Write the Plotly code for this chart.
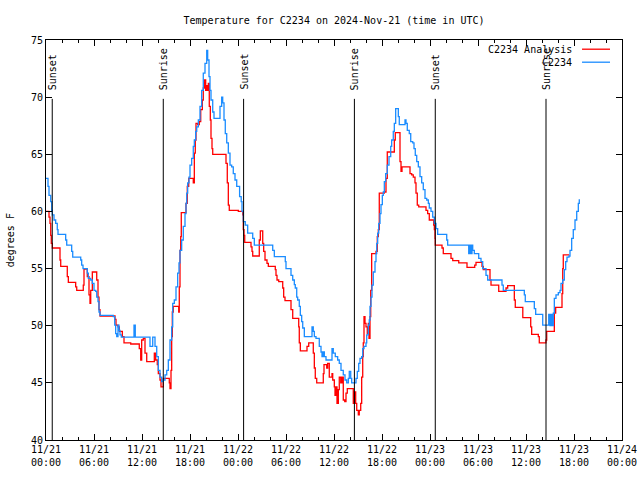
import plotly.graph_objects as go
import pandas as pd

BASE = pd.Timestamp("2024-11-21 00:00")

# hours since 2024-11-21 00:00 UTC, temperatures in degrees F
obs_hours = [0.0, 0.25, 0.375, 0.59, 0.71, 0.79, 1.0, 1.21, 1.41, 1.5, 2.46, 2.59, 3.21, 3.34, 4.34, 4.46, 4.625, 5.16, 5.29, 5.59,
             5.79, 6.0, 6.21, 6.34, 6.5, 6.625, 6.75, 8.41, 8.59, 8.71, 8.84, 9.0, 9.125, 9.25, 9.41, 11.0, 11.16, 13.0, 13.34, 13.625,
             13.84, 14.04, 14.25, 14.46, 14.66, 14.875, 15.09, 15.29, 15.5, 15.71, 15.84, 16.04, 16.25, 16.46, 16.625, 16.75, 16.96, 17.16, 17.375, 17.5,
             17.59, 17.71, 17.875, 18.0, 18.21, 18.41, 18.54, 18.71, 18.84, 19.04, 19.25, 19.46, 19.66, 19.875, 20.09, 20.21, 20.375, 20.5, 20.625, 20.84,
             21.0, 21.75, 21.96, 22.09, 22.25, 22.41, 22.59, 22.79, 23.0, 23.21, 23.41, 23.625, 23.84, 24.2, 24.4, 24.5, 24.66, 24.91, 25.21, 25.84,
             26.04, 28.34, 28.54, 29.91, 30.0, 30.625, 30.84, 31.04, 31.16, 31.34, 31.46, 31.66, 31.79, 31.96, 32.09, 32.29, 33.25, 33.41, 33.54, 33.75,
             34.16, 34.375, 34.5, 34.625, 34.79, 35.0, 35.75, 35.91, 36.16, 36.46, 36.66, 36.875, 37.16, 37.375, 37.59, 37.79, 37.91, 38.09, 38.21, 38.75,
             38.91, 39.09, 39.25, 39.46, 39.59, 39.75, 40.0, 40.09, 40.29, 40.41, 40.5, 40.625, 40.75, 40.91, 41.125, 41.25, 41.34, 41.46, 41.59, 41.75,
             41.875, 42.04, 42.16, 42.29, 42.46, 42.66, 42.875, 43.09, 43.21, 43.41, 43.54, 43.71, 44.04, 44.16, 44.875, 45.0, 45.16, 45.41, 45.59, 45.84,
             46.0, 46.16, 46.34, 46.54, 46.75, 46.96, 47.16, 47.375, 47.59, 47.79, 47.91, 48.125, 48.34, 48.54, 48.75, 48.96, 50.09, 50.21, 52.84, 52.96,
             53.125, 53.25, 53.34, 53.54, 54.09, 54.375, 54.59, 55.0, 55.21, 57.0, 57.16, 59.79, 59.91, 61.04, 61.21, 62.09, 62.84, 63.0, 63.125, 63.25,
             63.41, 63.54, 63.75, 64.04, 64.25, 64.375, 64.59, 64.79, 64.96, 65.125, 65.375, 65.5, 65.71, 65.91, 66.125, 66.34, 66.54, 66.66]
obs_temp = [62.9, 62.2, 61.4, 60.85, 60.1, 59.7, 59.25, 58.96, 58.4, 58.0, 57.5, 57.06, 56.5, 56.0, 55.75, 55.3, 55.0, 54.6, 54.15, 54.0,
            53.7, 53.1, 53.0, 52.5, 52.1, 51.2, 50.9, 50.8, 50.06, 49.3, 49.04, 50.06, 49.6, 49.2, 49.0, 50.06, 49.0, 48.2, 49.0, 48.2,
            47.3, 46.1, 45.5, 45.1, 45.25, 45.7, 46.1, 47.0, 48.75, 49.9, 51.96, 52.25, 53.4, 54.6, 55.5, 56.6, 57.5, 58.7, 59.8, 60.7,
            61.6, 62.5, 63.0, 64.06, 64.65, 65.7, 66.25, 67.0, 67.4, 68.0, 69.2, 70.6, 72.1, 72.96, 74.1, 73.25, 71.8, 70.6, 69.75, 68.7,
            68.15, 69.2, 70.0, 69.5, 68.0, 66.8, 66.0, 65.1, 64.06, 63.9, 63.3, 62.75, 62.2, 61.3, 60.85, 60.0, 59.1, 58.8, 58.1, 57.65,
            57.06, 56.6, 56.04, 55.6, 55.0, 54.4, 54.0, 53.6, 53.3, 52.5, 52.25, 51.7, 50.9, 50.35, 49.8, 49.04, 49.9, 49.5, 49.04, 48.9,
            48.2, 47.7, 47.3, 47.7, 47.3, 47.0, 48.0, 47.6, 47.3, 47.0, 46.7, 46.1, 45.7, 45.25, 45.0, 45.4, 46.0, 45.4, 45.0, 45.4,
            46.0, 46.7, 47.15, 47.3, 48.0, 48.2, 48.5, 49.2, 50.06, 50.5, 51.7, 52.5, 53.56, 54.7, 55.6, 56.3, 57.2, 58.1, 58.96, 59.8,
            60.6, 61.4, 61.7, 62.6, 63.3, 64.06, 64.8, 65.7, 66.25, 67.0, 67.7, 69.0, 68.3, 67.6, 68.0, 67.7, 67.1, 66.8, 66.1, 66.0,
            65.5, 64.9, 64.35, 63.9, 63.05, 62.5, 61.9, 61.15, 61.0, 60.7, 60.3, 60.0, 59.5, 58.96, 58.5, 58.0, 57.5, 57.06, 56.3, 57.06,
            56.3, 57.06, 56.6, 56.3, 55.9, 55.6, 55.0, 54.4, 54.0, 53.56, 53.1, 52.7, 52.1, 51.5, 51.0, 50.06, 51.0, 50.0, 51.0, 50.0,
            51.1, 52.4, 52.7, 52.9, 53.1, 53.7, 54.0, 54.9, 55.6, 56.0, 56.1, 56.6, 57.65, 58.4, 59.25, 60.0, 60.7, 61.06]

ana_hours = [0.0, 0.375, 0.5, 0.59, 0.66, 0.79, 1.75, 1.84, 2.66, 2.79, 3.71, 3.84, 4.66, 4.75, 5.16, 5.375, 5.5, 5.59, 5.79, 6.34,
             6.5, 6.625, 6.75, 8.625, 8.75, 9.0, 9.16, 9.54, 9.75, 10.59, 11.66, 11.84, 11.96, 12.16, 12.375, 12.59, 13.54, 13.71, 13.91, 14.04,
             14.25, 14.375, 14.66, 15.41, 15.5, 15.625, 15.71, 15.79, 15.91, 16.59, 16.66, 16.75, 16.84, 16.91, 17.5, 17.66, 17.84, 18.41, 18.54, 18.66,
             18.75, 18.96, 19.16, 19.34, 19.54, 19.66, 19.79, 19.96, 20.09, 20.21, 20.29, 20.41, 20.54, 20.625, 20.75, 20.84, 22.5, 22.66, 22.79, 22.91,
             24.04, 24.59, 24.66, 24.75, 24.84, 25.625, 25.75, 25.84, 26.66, 26.79, 27.09, 27.21, 27.375, 27.625, 27.79, 28.66, 28.75, 28.875, 29.09, 29.59,
             29.71, 29.875, 30.625, 30.84, 31.59, 31.66, 31.79, 32.625, 32.84, 33.41, 33.54, 33.66, 33.84, 34.66, 34.75, 35.09, 35.21, 35.41, 35.75, 35.84,
             36.04, 36.125, 36.25, 36.375, 36.54, 36.66, 36.84, 37.0, 37.16, 37.34, 37.5, 37.66, 38.41, 38.54, 38.71, 38.84, 39.04, 39.16, 39.34, 39.46,
             39.59, 39.66, 39.75, 39.875, 40.0, 40.16, 40.29, 40.375, 40.5, 40.59, 40.71, 41.25, 41.41, 41.54, 41.66, 42.29, 42.5, 42.66, 43.54, 43.66,
             44.25, 44.375, 44.5, 45.5, 45.71, 45.91, 46.125, 46.25, 46.41, 46.59, 47.5, 47.71, 47.91, 48.46, 48.54, 48.625, 48.66, 49.5, 49.66, 50.625,
             50.84, 51.59, 52.625, 53.59, 53.75, 54.5, 54.66, 55.5, 55.625, 56.59, 57.5, 57.71, 58.54, 58.66, 59.6, 60.59, 60.71, 61.54, 61.66, 62.5,
             62.59, 63.54, 63.71, 64.5, 64.59, 64.66, 65.41]
ana_temp = [60.0, 59.5, 58.96, 57.9, 57.2, 56.8, 55.75, 55.2, 54.3, 53.8, 53.4, 53.1, 53.56, 54.95, 54.3, 52.7, 51.96, 53.1, 54.7, 54.0,
            52.5, 51.4, 50.85, 50.56, 50.06, 49.9, 49.5, 49.04, 48.5, 48.4, 48.0, 47.0, 48.75, 48.9, 47.6, 46.85, 47.6, 47.0, 46.6, 45.8,
            45.25, 44.65, 45.4, 45.0, 44.5, 46.1, 49.04, 51.2, 51.7, 51.2, 53.4, 56.6, 57.8, 59.9, 60.7, 62.2, 62.9, 62.5, 65.1, 66.25,
            67.7, 67.6, 67.85, 68.9, 69.75, 70.8, 71.5, 70.6, 71.0, 70.6, 71.2, 69.2, 68.0, 66.4, 65.5, 65.0, 64.2, 62.5, 60.56, 60.1,
            60.0, 59.7, 58.4, 57.9, 57.3, 56.9, 56.5, 56.1, 57.5, 58.3, 57.2, 56.5, 55.75, 55.45, 55.2, 54.9, 54.4, 54.0, 53.85, 53.3,
            52.5, 52.2, 51.4, 50.65, 49.9, 48.5, 47.8, 48.2, 48.5, 47.6, 46.3, 45.4, 45.0, 45.8, 46.6, 46.3, 46.7, 45.5, 45.8, 45.25,
            44.65, 43.9, 44.65, 43.2, 44.4, 45.5, 45.0, 45.5, 43.5, 43.35, 44.1, 44.5, 43.2, 44.2, 43.2, 42.6, 42.2, 42.6, 43.2, 45.5,
            47.3, 48.5, 50.8, 50.2, 49.9, 49.3, 50.2, 48.9, 50.8, 53.1, 56.3, 56.5, 57.8, 58.4, 61.6, 61.7, 62.9, 65.2, 66.25, 66.9,
            64.35, 63.5, 63.9, 63.3, 63.2, 63.0, 62.5, 61.6, 60.56, 60.4, 60.1, 59.8, 59.25, 58.8, 58.4, 57.65, 57.06, 56.8, 56.3, 55.9,
            55.7, 55.5, 55.1, 55.3, 55.55, 55.2, 54.9, 54.0, 53.56, 53.0, 53.3, 53.5, 52.25, 51.6, 50.7, 49.9, 49.25, 49.04, 48.5, 48.75,
            49.5, 51.1, 51.6, 52.8, 55.0, 56.2, 56.2]

sunset_hours = [0.78, 24.7, 48.66]
sunrise_hours = [14.66, 38.55, 62.5]

x_tick_hours = list(range(0, 73, 6))
x_tick_labels = ["11/21<br>00:00", "11/21<br>06:00", "11/21<br>12:00", "11/21<br>18:00",
                 "11/22<br>00:00", "11/22<br>06:00", "11/22<br>12:00", "11/22<br>18:00",
                 "11/23<br>00:00", "11/23<br>06:00", "11/23<br>12:00", "11/23<br>18:00",
                 "11/24<br>00:00"]
y_ticks = [40, 45, 50, 55, 60, 65, 70, 75]

series_names = ["C2234 Analysis", "C2234"]
series_colors = ["#ff0000", "#1a8cff"]

FONT = "DejaVu Sans Mono"


def t(h):
    return BASE + pd.to_timedelta(h, unit="h")


fig = go.Figure()
fig.add_trace(go.Scatter(x=[t(h) for h in ana_hours], y=ana_temp, mode="lines", name=series_names[0],
                         line=dict(color=series_colors[0], width=1.3, shape="hv"), showlegend=False))
fig.add_trace(go.Scatter(x=[t(h) for h in obs_hours], y=obs_temp, mode="lines", name=series_names[1],
                         line=dict(color=series_colors[1], width=1.3, shape="hv"), showlegend=False))

shapes = []
annotations = []
for label, hours in (("Sunset", sunset_hours), ("Sunrise", sunrise_hours)):
    for h in hours:
        shapes.append(dict(type="line", xref="x", yref="y", x0=t(h), x1=t(h), y0=40, y1=69.85,
                           line=dict(color="black", width=1)))
        annotations.append(dict(text=label, xref="x", yref="y", x=t(h), y=70.45, textangle=-90,
                                xanchor="center", yanchor="bottom", showarrow=False,
                                font=dict(family=FONT, size=10, color="black")))

# legend drawn gnuplot style: text, then line sample on the right
for i, (name, color) in enumerate(zip(series_names, series_colors)):
    ypos = 0.977 - i * 0.0325
    annotations.append(dict(text=name, xref="paper", yref="paper", x=0.9167, y=ypos,
                            xanchor="right", yanchor="middle", showarrow=False,
                            font=dict(family=FONT, size=10, color="black")))
    shapes.append(dict(type="line", xref="paper", yref="paper", x0=0.9306, x1=0.9792, y0=ypos, y1=ypos,
                       line=dict(color=color, width=1.3)))

# y axis title
annotations.append(dict(text="degrees F", xref="paper", yref="paper", x=-0.062, y=0.5, textangle=-90,
                        xanchor="center", yanchor="middle", showarrow=False,
                        font=dict(family=FONT, size=10, color="black")))

fig.update_layout(
    width=640, height=480,
    margin=dict(l=46, r=18, t=40, b=40, autoexpand=False),
    paper_bgcolor="white", plot_bgcolor="white",
    font=dict(family=FONT, size=10, color="black"),
    title=dict(text="Temperature for C2234 on 2024-Nov-21 (time in UTC)", x=0.5, xref="paper",
               y=1 - 20 / 480, yref="container", xanchor="center", yanchor="middle",
               font=dict(family=FONT, size=10, color="black")),
    shapes=shapes, annotations=annotations,
)
fig.update_xaxes(type="date", range=[t(0), t(72)], tickmode="array", automargin=False,
                 tickvals=[t(h) for h in x_tick_hours], ticktext=x_tick_labels,
                 ticks="inside", ticklen=6, tickcolor="black", tickwidth=1,
                 minor=dict(tickmode="array", tickvals=[t(h) for h in range(0, 73, 2) if h % 6],
                            ticks="inside", ticklen=3, tickcolor="black", tickwidth=1),
                 showline=True, linecolor="black", linewidth=1, mirror="ticks",
                 showgrid=False, zeroline=False, tickfont=dict(family=FONT, size=10, color="black"))
fig.update_yaxes(range=[40, 75], tickmode="array", tickvals=y_ticks, ticktext=[str(v) for v in y_ticks],
                 automargin=False,
                 ticks="inside", ticklen=6, tickcolor="black", tickwidth=1,
                 showline=True, linecolor="black", linewidth=1, mirror="ticks",
                 showgrid=False, zeroline=False, tickfont=dict(family=FONT, size=10, color="black"))

fig.write_html("out.html", config={"displayModeBar": False},
               post_script="document.body.style.margin='0';document.body.style.overflow='hidden';")
